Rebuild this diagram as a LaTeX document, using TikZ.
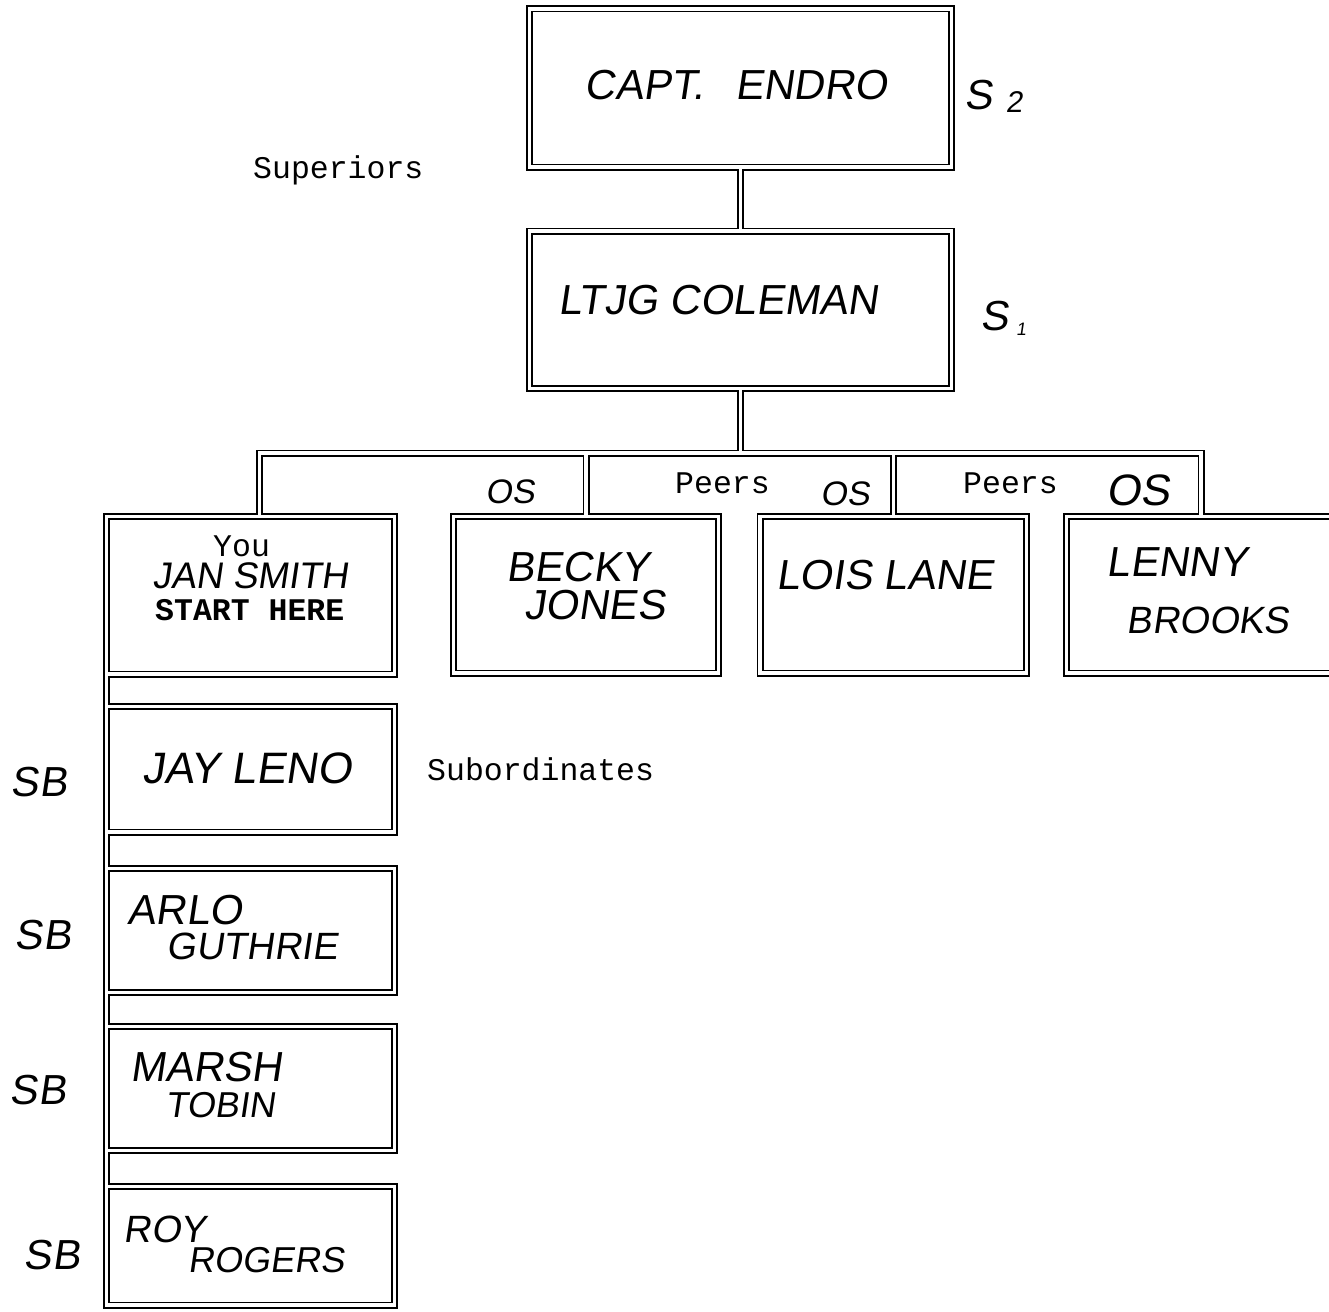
\documentclass[tikz,border=0pt]{standalone}
\usepackage{fontspec}
\setmonofont{Liberation Mono}
\newfontfamily\hand[FakeSlant=0.15]{Liberation Sans}
\begin{document}
\begin{tikzpicture}[x=1pt,y=-1pt,
  box/.style={rectangle, draw=none, inner sep=0pt, outer sep=0pt},
  dbl/.style={draw=black, line width=1.8pt, double=white, double distance=3.4pt},
  hw/.style={font={\hand\fontsize{#1}{#1}\selectfont}, inner sep=0pt},
  hw/.default=42,
  typew/.style={font={\ttfamily\fontsize{31.5}{34}\selectfont}, inner sep=0pt, anchor=base west},
]
\useasboundingbox (0,0) rectangle (1329,1311);
\clip (0,0) rectangle (1329,1311);
\fill[white] (0,0) rectangle (1329,1311);

% boxes
\node[box, minimum width=422pt, minimum height=158pt] (capt) at (740.5,88) {};
\node[box, minimum width=422pt, minimum height=157.5pt] (cole) at (740.5,309.75) {};
\node[box, minimum width=288pt, minimum height=157.5pt] (jan) at (250.5,595.25) {};
\node[box, minimum width=265pt, minimum height=156.5pt] (becky) at (586,594.75) {};
\node[box, minimum width=266.5pt, minimum height=156.5pt] (lois) at (893.25,594.75) {};
\node[box, minimum width=269pt, minimum height=156.5pt] (lenny) at (1201,594.75) {};
\node[box, minimum width=288pt, minimum height=125.5pt] (jay) at (250.5,769.25) {};
\node[box, minimum width=288pt, minimum height=124pt] (arlo) at (250.5,930.5) {};
\node[box, minimum width=288pt, minimum height=124pt] (marsh) at (250.5,1088.5) {};
\node[box, minimum width=288pt, minimum height=118.5pt] (roy) at (250.5,1245.75) {};

\coordinate (busL) at (259.5,453);
\coordinate (busR) at (1201,453);

\draw[dbl]
  (capt.north west) rectangle (capt.south east)
  (cole.north west) rectangle (cole.south east)
  (jan.north west) rectangle (jan.south east)
  (becky.north west) rectangle (becky.south east)
  (lois.north west) rectangle (lois.south east)
  (lenny.north west) rectangle (lenny.south east)
  (jay.north west) rectangle (jay.south east)
  (arlo.north west) rectangle (arlo.south east)
  (marsh.north west) rectangle (marsh.south east)
  (roy.north west) rectangle (roy.south east)
  (capt.south) -- (cole.north)
  (cole.south) -- (cole.south |- busL)
  (jan.north -| busL) -- (busL) -- (busR) -- (lenny.north -| busR)
  (becky.north) -- (becky.north |- busL)
  (lois.north) -- (lois.north |- busL)
  (jan.south west) -- (jay.north west)
  (jay.south west) -- (arlo.north west)
  (arlo.south west) -- (marsh.north west)
  (marsh.south west) -- (roy.north west);

% handwritten texts
\node[hw] (tcapt) at (736,85) {CAPT.\hspace{0.75em}ENDRO};
\node[hw] (ts2) at (978,95) {S};
\node[hw=30] (ts2sub) at (1014,102) {2};
\node[hw] (tcole) at (718,300) {LTJG COLEMAN};
\node[hw] (ts1) at (994,316) {S};
\node[hw=18] (ts1sub) at (1021,329) {1};
\node[hw=34] (os1) at (510,492) {OS};
\node[hw=34] (os2) at (845,494) {OS};
\node[hw=44] (os3) at (1138,490) {OS};
\node[hw=37] (tjan) at (250,576) {JAN SMITH};
\node[hw] (tbecky) at (578,567) {BECKY};
\node[hw] (tjones) at (595,605) {JONES};
\node[hw] (tlois) at (885,575) {LOIS LANE};
\node[hw] (tlenny) at (1177,562) {LENNY};
\node[hw=38] (tbrooks) at (1208,620) {BROOKS};
\node[hw=44] (tjay) at (247,768) {JAY LENO};
\node[hw] (tarlo) at (185,910) {ARLO};
\node[hw=38] (tguthrie) at (252,946) {GUTHRIE};
\node[hw] (tmarsh) at (206,1067) {MARSH};
\node[hw=36] (ttobin) at (220,1105) {TOBIN};
\node[hw=38] (troy) at (165,1229) {ROY};
\node[hw=36] (trogers) at (266,1260) {ROGERS};
\node[hw] (sb1) at (39,782) {SB};
\node[hw] (sb2) at (43,935) {SB};
\node[hw] (sb3) at (38,1090) {SB};
\node[hw] (sb4) at (52,1255) {SB};

% typed texts
\node[typew] (superiors) at (253,178) {Superiors};
\node[typew] (peers1) at (675,493) {Peers};
\node[typew] (peers2) at (963,493) {Peers};
\node[typew] (you) at (213,556) {You};
\node[typew, font={\ttfamily\bfseries\fontsize{31.5}{34}\selectfont}] (start) at (155,620) {START HERE};
\node[typew] (subord) at (427,780) {Subordinates};
\end{tikzpicture}
\end{document}
